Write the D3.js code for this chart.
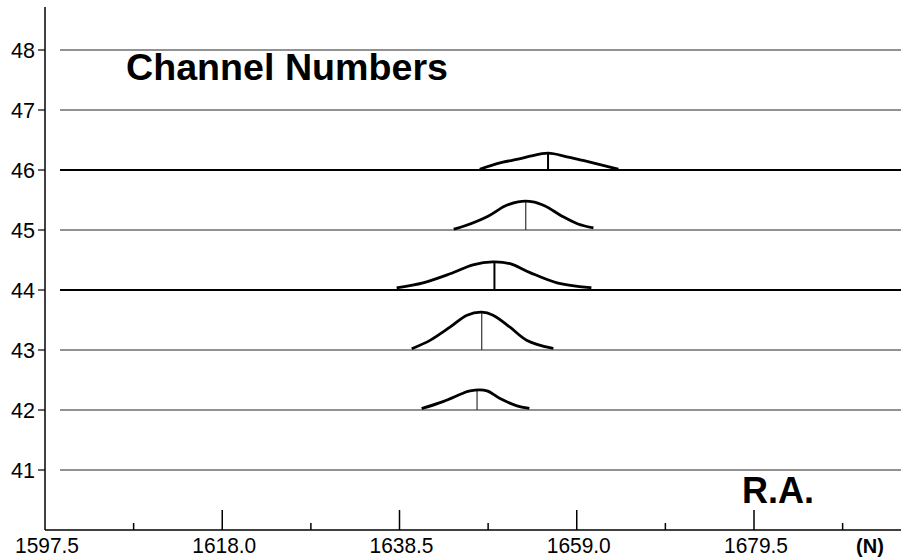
<!DOCTYPE html>
<html>
<head>
<meta charset="utf-8">
<script src="https://cdn.jsdelivr.net/npm/d3@7"></script>
<style>
  html, body { margin: 0; padding: 0; background: #fff; }
  svg { display: block; }
  text { font-family: "Liberation Sans", Arial, sans-serif; fill: #000; }
</style>
</head>
<body>
<svg id="chart" width="901" height="559"></svg>
<script>
// Channel rows on the vertical axis
const channels = [41, 42, 43, 44, 45, 46, 47, 48];
const emphasised = [44, 46];

// R.A. axis ticks
const majorTicks = [1597.5, 1618.0, 1638.5, 1659.0, 1679.5];
const minorTicks = [1607.75, 1628.25, 1648.75, 1669.25, 1689.75];

// Profile of each channel: R.A. samples and intensity (in channel-row units)
const profileChannels = [42, 43, 44, 45, 46];
const profileRA = [
  [1641.22, 1643.53, 1645.85, 1646.66, 1648.62, 1650.13, 1652.09, 1653.36],
  [1640.06, 1642.03, 1644.34, 1646.31, 1648.01, 1649.32, 1651.28, 1653.25, 1656.14],
  [1638.33, 1641.22, 1644.34, 1647.00, 1649.32, 1651.28, 1653.60, 1656.72, 1660.53],
  [1644.92, 1646.08, 1648.74, 1650.70, 1652.21, 1653.94, 1655.33, 1657.30, 1659.15, 1660.77],
  [1647.93, 1648.97, 1650.47, 1652.21, 1653.60, 1655.68, 1657.87, 1659.38, 1660.88, 1662.27, 1663.66]
];
const profileIntensity = [
  [0.03, 0.14, 0.28, 0.32, 0.32, 0.19, 0.07, 0.03],
  [0.03, 0.16, 0.38, 0.58, 0.63, 0.58, 0.38, 0.16, 0.03],
  [0.04, 0.12, 0.27, 0.42, 0.47, 0.44, 0.29, 0.12, 0.04],
  [0.02, 0.07, 0.23, 0.40, 0.47, 0.47, 0.40, 0.23, 0.10, 0.04],
  [0.02, 0.07, 0.13, 0.18, 0.23, 0.28, 0.22, 0.17, 0.12, 0.07, 0.02]
];
// Peak position and height per channel
const peakRA = [1647.47, 1648.01, 1649.48, 1653.10, 1655.68];
const peakIntensity = [0.32, 0.63, 0.47, 0.47, 0.28];

const W = 901, H = 559;
const axisX = 45, axisY = 530, gridStart = 60;

const svg = d3.select("#chart");

const x = d3.scaleLinear()
  .domain([1597.5, 1679.5])
  .range([axisX, 754]);
const y = d3.scaleLinear()
  .domain([41, 48])
  .range([470, 50]);

// Horizontal channel baselines
svg.append("g").selectAll("line")
  .data(channels)
  .join("line")
  .attr("x1", gridStart)
  .attr("x2", W)
  .attr("y1", d => y(d))
  .attr("y2", d => y(d))
  .attr("stroke", d => emphasised.includes(d) ? "#000" : "#6e6e6e")
  .attr("stroke-width", d => emphasised.includes(d) ? 2 : 1.4);

// Vertical axis
svg.append("line")
  .attr("x1", axisX).attr("x2", axisX)
  .attr("y1", 7).attr("y2", axisY)
  .attr("stroke", "#000").attr("stroke-width", 1.5);

const yt = svg.append("g").selectAll("g")
  .data(channels)
  .join("g")
  .attr("transform", d => `translate(0,${y(d)})`);
yt.append("line")
  .attr("x1", axisX - 7).attr("x2", axisX)
  .attr("stroke", "#000").attr("stroke-width", 1.2);
yt.append("text")
  .attr("x", 35)
  .attr("dy", "0.36em")
  .attr("text-anchor", "end")
  .attr("font-size", 22)
  .attr("textLength", 24)
  .attr("lengthAdjust", "spacingAndGlyphs")
  .text(d => d);

// Horizontal axis
svg.append("line")
  .attr("x1", axisX).attr("x2", W)
  .attr("y1", axisY).attr("y2", axisY)
  .attr("stroke", "#000").attr("stroke-width", 1.5);

svg.append("g").selectAll("line")
  .data(majorTicks.slice(1))
  .join("line")
  .attr("x1", d => x(d)).attr("x2", d => x(d))
  .attr("y1", axisY - 20).attr("y2", axisY)
  .attr("stroke", "#000").attr("stroke-width", 1.5);

svg.append("g").selectAll("line")
  .data(minorTicks)
  .join("line")
  .attr("x1", d => x(d)).attr("x2", d => x(d))
  .attr("y1", axisY - 7).attr("y2", axisY)
  .attr("stroke", "#000").attr("stroke-width", 1.5);

svg.append("g").selectAll("text")
  .data(majorTicks)
  .join("text")
  .attr("x", d => x(d) + 2)
  .attr("y", 553)
  .attr("text-anchor", "middle")
  .attr("font-size", 22)
  .attr("textLength", 64)
  .attr("lengthAdjust", "spacingAndGlyphs")
  .text(d => d.toFixed(1));

svg.append("text")
  .attr("x", 870).attr("y", 553)
  .attr("text-anchor", "middle")
  .attr("font-size", 20)
  .attr("font-weight", "bold")
  .text("(N)");

// Titles
svg.append("text")
  .attr("x", 126).attr("y", 80)
  .attr("font-size", 37)
  .attr("font-weight", "bold")
  .attr("textLength", 322)
  .attr("lengthAdjust", "spacingAndGlyphs")
  .text("Channel Numbers");

svg.append("text")
  .attr("x", 742).attr("y", 503)
  .attr("font-size", 36)
  .attr("font-weight", "bold")
  .text("R.A.");

// Channel profiles
const line = d3.line()
  .x(d => x(d[0]))
  .y(d => y(d[1]))
  .curve(d3.curveCatmullRom);

profileChannels.forEach((ch, i) => {
  const pts = profileRA[i].map((ra, j) => [ra, ch + profileIntensity[i][j]]);
  const strong = emphasised.includes(ch);
  svg.append("line")
    .attr("x1", x(peakRA[i])).attr("x2", x(peakRA[i]))
    .attr("y1", y(ch)).attr("y2", y(ch + peakIntensity[i]))
    .attr("stroke", strong ? "#000" : "#333")
    .attr("stroke-width", strong ? 2 : 1.2);
  svg.append("path")
    .attr("d", line(pts))
    .attr("fill", "none")
    .attr("stroke", "#000")
    .attr("stroke-width", 2.8)
    .attr("stroke-linecap", "square");
});
</script>
</body>
</html>
